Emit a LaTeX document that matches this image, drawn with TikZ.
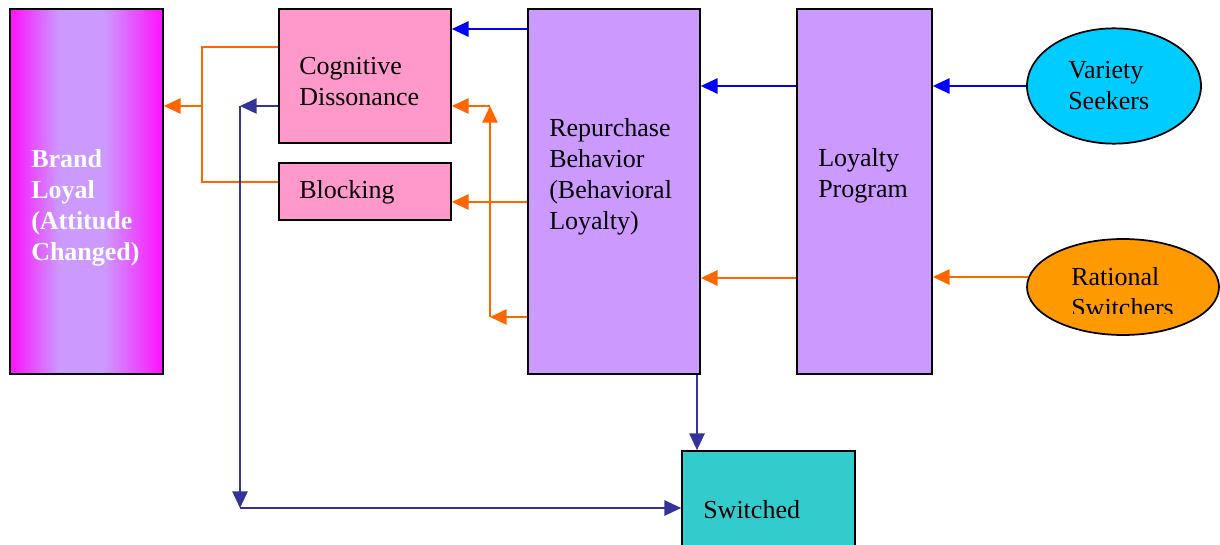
\documentclass[tikz,border=0pt]{standalone}
\usepackage{fontspec}
\setmainfont{Liberation Serif}
\usetikzlibrary{arrows.meta,fit,shapes.geometric}

\definecolor{pinkbox}{HTML}{FF99CC}
\definecolor{lilac}{HTML}{CC99FF}
\definecolor{skyfill}{HTML}{00CCFF}
\definecolor{amber}{HTML}{FF9900}
\definecolor{tealfill}{HTML}{33CCCC}
\definecolor{orangeline}{HTML}{FF6600}
\definecolor{blueline}{HTML}{0000FF}
\definecolor{navyline}{HTML}{333399}
\definecolor{brandedge}{HTML}{FF10FF}

% magenta edges fading to lilac in the middle
\pgfdeclarehorizontalshading{brandfade}{100bp}{%
  color(0bp)=(brandedge); color(25bp)=(brandedge);
  color(41bp)=(lilac); color(56bp)=(lilac);
  color(75bp)=(brandedge); color(100bp)=(brandedge)}

% left-aligned block of lines, baseline on the first line
\newcommand\stackedtext[1]{\begin{tabular}[t]{@{}l@{}}#1\end{tabular}}

\tikzset{
  boxline/.style={draw=black, line width=1.3pt, inner sep=0pt},
  blob/.style={ellipse, draw=black, line width=1.3pt, inner sep=0pt},
  lbl/.style={anchor=base west, inner sep=0pt,
    font=\fontsize{19.5}{23.25}\selectfont},
  conn/.style={line width=1.2pt, -{Triangle[length=12.5pt,width=11.5pt]}},
  plain/.style={line width=1.2pt},
  org/.style={draw=orangeline, fill=orangeline},
  blu/.style={draw=blueline, fill=blueline},
  nav/.style={draw=navyline, fill=navyline},
}

\begin{document}
\begin{tikzpicture}[x=0.75pt, y=-0.75pt]
\useasboundingbox (0,0) rectangle (1220,545);
\clip (0,0) rectangle (1220,545);

% boxes
\node[boxline, shade, shading=brandfade, fit={(10,9) (163,374)}] (brand) {};
\node[boxline, fill=pinkbox, fit={(279,9) (451,143)}] (cog) {};
\node[boxline, fill=pinkbox, fit={(279,163) (451,220)}] (blk) {};
\node[boxline, fill=lilac, fit={(528,9) (700,374)}] (rep) {};
\node[boxline, fill=lilac, fit={(797,9) (932,374)}] (loy) {};
\node[boxline, fill=tealfill, fit={(682,451) (855,580)}] (sw) {};
\node[blob, fill=skyfill, minimum width=130.5pt, minimum height=86.5pt] (var) at (1114,86) {};
\node[blob, fill=amber, minimum width=144pt, minimum height=72pt] (rat) at (1123,287) {};

% box texts
\node[lbl, text=white, font=\fontsize{19.5}{23.25}\selectfont\bfseries] (brandtxt) at (31,168)
  {\stackedtext{Brand\\Loyal\\(Attitude\\Changed)}};
\node[lbl] (cogtxt) at (299,75) {\stackedtext{Cognitive\\Dissonance}};
\node[lbl] (blktxt) at (299,199) {Blocking};
\node[lbl] (reptxt) at (549,137) {\stackedtext{Repurchase\\Behavior\\(Behavioral\\Loyalty)}};
\node[lbl] (loytxt) at (818,167) {\stackedtext{Loyalty\\Program}};
\node[lbl] (vartxt) at (1068,79) {\stackedtext{Variety\\Seekers}};
\node[lbl] (swtxt) at (703,518) {Switched};
\begin{scope}
  \clip (1030,230) rectangle (1215,313);
  \node[lbl] (rattxt) at (1071,286) {\stackedtext{Rational\\Switchers}};
\end{scope}

% routing points
\coordinate (lvlTop) at (0,29);
\coordinate (lvlProg) at (0,86);
\coordinate (lvlBlk) at (0,202);
\coordinate (lvlOrg) at (0,278);
\coordinate (cornerTL) at (202,47);
\coordinate (cornerBL) at (202,182);
\coordinate (jBrand) at (202,106);
\coordinate (navTop) at (240,106);
\coordinate (navBot) at (240,508);
\coordinate (loopTop) at (490,106);
\coordinate (loopBot) at (490,317);
\coordinate (dropX) at (697,0);

% blue flow
\draw[conn, blu] (rep.west |- lvlTop) -- (cog.east |- lvlTop);
\draw[conn, blu] (loy.west |- lvlProg) -- (rep.east |- lvlProg);
\draw[conn, blu] (var.west) -- (loy.east |- var.west);

% orange flow
\draw[conn, org] (loy.west |- lvlOrg) -- (rep.east |- lvlOrg);
\draw[conn, org] (rat.174) -- (loy.east |- rat.174);
\draw[conn, org] (rep.west |- lvlBlk) -- (blk.east |- lvlBlk);
\draw[conn, org] (rep.west |- loopBot) -- (loopBot);
\draw[conn, org] (loopBot) -- (loopTop);
\draw[conn, org] (loopTop) -- (cog.east |- loopTop);
\draw[plain, draw=orangeline] (cog.west |- cornerTL) -- (cornerTL) -- (cornerBL) -- (blk.west |- cornerBL);
\draw[conn, org] (jBrand) -- (brand.east |- jBrand);

% navy flow to Switched
\draw[conn, nav] (cog.west |- navTop) -- (navTop);
\draw[conn, nav] (navTop) -- (navBot);
\draw[conn, nav] (navBot) -- (sw.west |- navBot);
\draw[conn, nav] (rep.south -| dropX) -- (sw.north -| dropX);
\end{tikzpicture}
\end{document}
